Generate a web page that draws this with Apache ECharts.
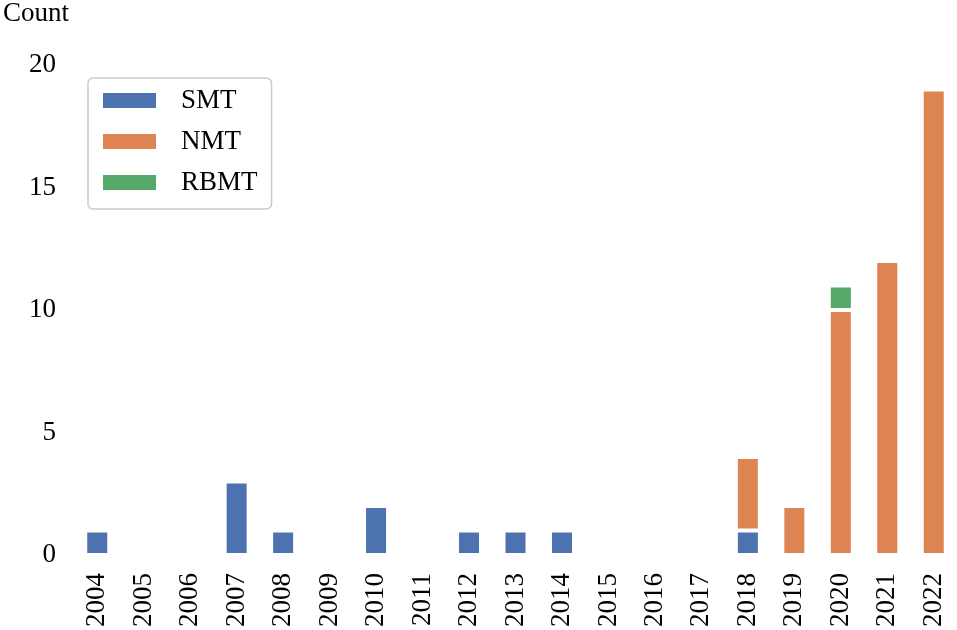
<!DOCTYPE html>
<html>
<head>
<meta charset="utf-8">
<script src="https://cdn.jsdelivr.net/npm/echarts@6/dist/echarts.min.js"></script>
<style>html,body{margin:0;padding:0;background:#fff}#c{width:957px;height:630px}</style>
</head>
<body>
<div id="c"></div>
<script>
const years = ['2004','2005','2006','2007','2008','2009','2010','2011','2012','2013','2014','2015','2016','2017','2018','2019','2020','2021','2022'];
const smt  = [1,0,0,3,1,0,2,0,1,1,1,0,0,0,1,0,0,0,0];
const nmt  = [0,0,0,0,0,0,0,0,0,0,0,0,0,0,3,2,10,12,19];
const rbmt = [0,0,0,0,0,0,0,0,0,0,0,0,0,0,0,0,1,0,0];
const yTicks = [0,5,10,15,20];

const FONT = '"Liberation Serif", "DejaVu Serif", serif';
const FS = 27;
const chart = echarts.init(document.getElementById('c'), null, {renderer:'canvas'});
function ser(name, data, color){
  return {name, type:'bar', stack:'total', data, barWidth:24,
    itemStyle:{color, borderColor:'#ffffff', borderWidth:2}};
}
chart.setOption({
  animation:false,
  backgroundColor:'#ffffff',
  title:{text:'Count', left:-2, top:-5,
    textStyle:{fontFamily:FONT, fontSize:FS, fontWeight:'normal', color:'#000'}},
  grid:{left:74, top:65, width:893, bottom:73.5, containLabel:false},
  legend:{orient:'vertical', left:88, top:78,
    data:['SMT','NMT','RBMT'],
    icon:'rect', itemWidth:55, itemHeight:17, itemGap:14,
    padding:[9,14,13,13],
    borderColor:'#cccccc', borderWidth:1.5, borderRadius:5, backgroundColor:'#ffffff',
    textStyle:{fontFamily:FONT, fontSize:FS, color:'#000', lineHeight:26.5, padding:[0,0,0,19]}},
  xAxis:{type:'category', data:years,
    axisLine:{show:false}, axisTick:{show:false}, splitLine:{show:false},
    axisLabel:{rotate:90, interval:0, margin:18, fontFamily:FONT, fontSize:FS, color:'#000'}},
  yAxis:{type:'value', min:yTicks[0], max:yTicks[yTicks.length-1], interval:5,
    axisLine:{show:false}, axisTick:{show:false}, splitLine:{show:false},
    axisLabel:{margin:18, fontFamily:FONT, fontSize:FS, color:'#000'}},
  series:[ser('SMT', smt, '#4C72B0'), ser('NMT', nmt, '#DD8452'), ser('RBMT', rbmt, '#55A868')]
});
</script>
</body>
</html>
